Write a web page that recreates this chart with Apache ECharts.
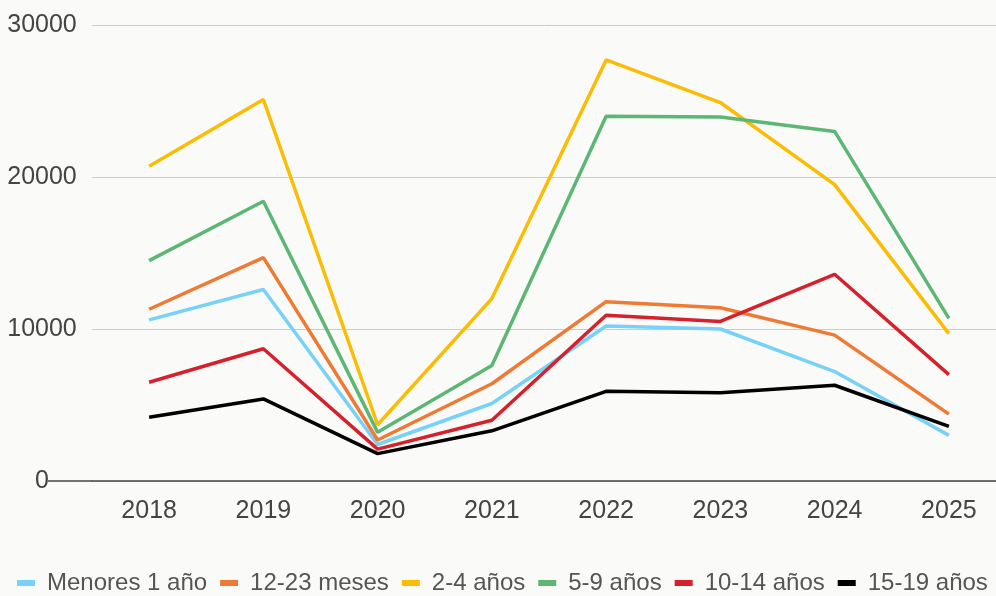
<!DOCTYPE html>
<html>
<head>
<meta charset="utf-8">
<script src="https://cdn.jsdelivr.net/npm/echarts@6/dist/echarts.min.js"></script>
<style>
  html, body { margin: 0; padding: 0; background: #fafaf9; }
  #chart { width: 996px; height: 596px; }
</style>
</head>
<body>
<div id="chart"></div>
<script>
// Años de la serie
const years = ['2018', '2019', '2020', '2021', '2022', '2023', '2024', '2025'];

// Casos por grupo de edad
const menores1 = [10600, 12600, 2400, 5100, 10200, 10000, 7200, 3000];
const meses12a23 = [11300, 14700, 2700, 6400, 11800, 11400, 9600, 4400];
const anios2a4 = [20700, 25100, 3700, 12000, 27700, 24900, 19500, 9700];
const anios5a9 = [14500, 18400, 3200, 7600, 24000, 23950, 23000, 10700];
const anios10a14 = [6500, 8700, 2100, 4000, 10900, 10500, 13600, 7000];
const anios15a19 = [4200, 5400, 1800, 3300, 5900, 5800, 6300, 3600];

const seriesNames = ['Menores 1 año', '12-23 meses', '2-4 años', '5-9 años', '10-14 años', '15-19 años'];
const seriesData = [menores1, meses12a23, anios2a4, anios5a9, anios10a14, anios15a19];
const colors = ['#78d1f6', '#ee7a33', '#fbbc04', '#5cb774', '#d4212b', '#000000'];

const GRID_LEFT = 92;

const chart = echarts.init(document.getElementById('chart'));

const option = {
  backgroundColor: '#fafaf9',
  animation: false,
  color: colors,
  textStyle: { fontFamily: 'Liberation Sans, Arial, sans-serif' },
  grid: {
    left: GRID_LEFT,
    width: 914,
    top: 25,
    bottom: 115,
    containLabel: false,
    outerBoundsMode: 'none'
  },
  legend: {
    left: 17,
    top: 571,
    width: 990,
    padding: 0,
    itemWidth: 18,
    itemHeight: 6,
    itemGap: 13,
    icon: 'rect',
    textStyle: { fontSize: 24, color: '#555555', padding: [0, 0, 0, 7] },
    data: seriesNames
  },
  xAxis: {
    type: 'category',
    data: years,
    boundaryGap: true,
    axisLine: { show: true, lineStyle: { color: '#444444', width: 1.5 } },
    axisTick: { show: false },
    axisLabel: { fontSize: 25, color: '#444444', margin: 18 }
  },
  yAxis: {
    type: 'value',
    min: 0,
    max: 30000,
    interval: 10000,
    axisLine: { show: false },
    axisTick: { show: false },
    splitLine: { lineStyle: { color: '#cccccc', width: 1 } },
    axisLabel: {
      fontSize: 25,
      color: '#444444',
      align: 'center',
      margin: 50,
      formatter: (v) => String(v)
    }
  },
  series: seriesNames.map((name, i) => ({
    name: name,
    type: 'line',
    data: seriesData[i],
    symbol: 'none',
    lineStyle: { width: 3.5, color: colors[i] },
    itemStyle: { color: colors[i] }
  }))
};

chart.setOption(option);

// Extend the baseline leftwards under the "0" label
const y0 = chart.convertToPixel({ yAxisIndex: 0 }, 0);
chart.setOption({
  graphic: [{
    type: 'line',
    shape: { x1: 48, y1: y0, x2: GRID_LEFT, y2: y0 },
    style: { stroke: '#444444', lineWidth: 1.5 },
    z: 5
  }]
});
</script>
</body>
</html>
